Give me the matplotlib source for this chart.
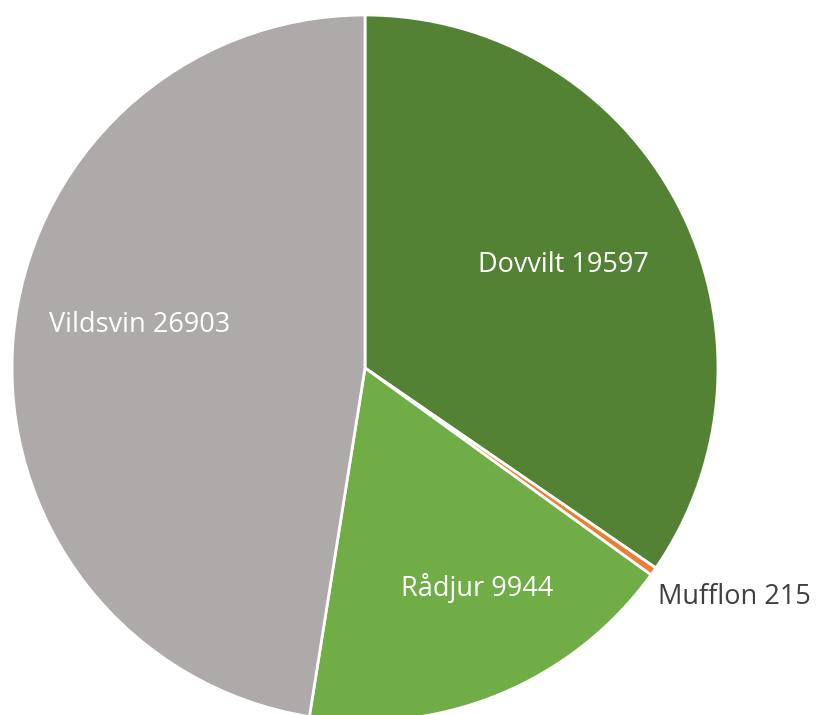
import matplotlib
matplotlib.use("Agg")
import matplotlib.pyplot as plt

categories = ["Dovvilt", "Mufflon", "Rådjur", "Vildsvin"]
values = [19597, 215, 9944, 26903]
colors = ["#548235", "#ED7D31", "#70AD47", "#AEAAAA"]

plt.rcParams['font.family'] = ['Open Sans', 'DejaVu Sans']

W, H = 816, 715
fig = plt.figure(figsize=(W / 100, H / 100), dpi=100)
cx, cy, r = 365, 368, 353
ax = fig.add_axes([(cx - r) / W, (H - cy - r) / H, 2 * r / W, 2 * r / H])
ax.axis('off')

wedges, _ = ax.pie(values, colors=colors, startangle=90, counterclock=False,
                   radius=1, wedgeprops=dict(edgecolor='white', linewidth=2),
                   frame=False)
ax.set_xlim(-1, 1)
ax.set_ylim(-1, 1)

def to_data(px, py):
    return (px - cx) / r, (cy - py) / r

label_pos = {
    "Dovvilt": (563, 265, 'center', 'white'),
    "Rådjur": (477, 588, 'center', 'white'),
    "Vildsvin": (140, 325, 'center', 'white'),
    "Mufflon": (658, 597, 'left', '#404040'),
}
for cat, val in zip(categories, values):
    px, py, ha, col = label_pos[cat]
    x, y = to_data(px, py)
    ax.text(x, y, f"{cat} {val}", ha=ha, va='center', color=col, fontsize=19.5,
            clip_on=False)

fig.savefig("out.png", dpi=100)
